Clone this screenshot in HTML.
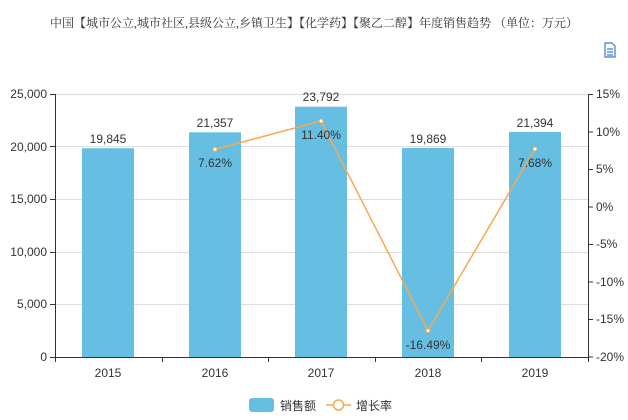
<!DOCTYPE html>
<html><head><meta charset="utf-8"><style>
body{margin:0;background:#fff;}
svg text{font-family:"Liberation Sans","Noto Sans CJK SC",sans-serif;}
</style></head><body>
<svg width="628" height="415" xmlns="http://www.w3.org/2000/svg">
<text x="314" y="27" font-size="12" text-anchor="middle" fill="#333" style="font-family:'Liberation Serif','Noto Serif CJK SC',serif">中国【城市公立,城市社区,县级公立,乡镇卫生】【化学药】【聚乙二醇】年度销售趋势 （单位：万元）</text>
<g stroke="#3a7bd5" fill="none" stroke-width="1.2"><path d="M605 43h7l3 3v11h-10z"/><path d="M607 49h6M607 52h6M607 55h6"/></g>
<g stroke="#ddd" stroke-width="1">
<line x1="55" y1="94.5" x2="588" y2="94.5"/><line x1="55" y1="146.5" x2="588" y2="146.5"/><line x1="55" y1="199.5" x2="588" y2="199.5"/><line x1="55" y1="252.5" x2="588" y2="252.5"/><line x1="55" y1="304.5" x2="588" y2="304.5"/>
</g>
<g fill="#66bfe2">
<rect x="82" y="148.2" width="52" height="208.8"/>
<rect x="189" y="132.3" width="52" height="224.7"/>
<rect x="295" y="106.7" width="52" height="250.3"/>
<rect x="402" y="148" width="52" height="209"/>
<rect x="509" y="132" width="52" height="225"/>
</g>
<g stroke="#333" stroke-width="1">
<line x1="55.5" y1="94" x2="55.5" y2="357"/><line x1="588.5" y1="94" x2="588.5" y2="357"/>
<line x1="55" y1="357.5" x2="588" y2="357.5"/>
<line x1="50" y1="94.5" x2="55" y2="94.5"/><line x1="50" y1="146.5" x2="55" y2="146.5"/><line x1="50" y1="199.5" x2="55" y2="199.5"/><line x1="50" y1="252.5" x2="55" y2="252.5"/><line x1="50" y1="304.5" x2="55" y2="304.5"/><line x1="50" y1="357.5" x2="55" y2="357.5"/>
<line x1="55.5" y1="357" x2="55.5" y2="362"/><line x1="162.5" y1="357" x2="162.5" y2="362"/><line x1="268.5" y1="357" x2="268.5" y2="362"/><line x1="375.5" y1="357" x2="375.5" y2="362"/><line x1="481.5" y1="357" x2="481.5" y2="362"/><line x1="588.5" y1="357" x2="588.5" y2="362"/>
<line x1="588" y1="94.5" x2="593" y2="94.5"/><line x1="588" y1="132" x2="593" y2="132"/><line x1="588" y1="169.5" x2="593" y2="169.5"/><line x1="588" y1="207" x2="593" y2="207"/><line x1="588" y1="244.5" x2="593" y2="244.5"/><line x1="588" y1="282" x2="593" y2="282"/><line x1="588" y1="319.5" x2="593" y2="319.5"/><line x1="588" y1="357" x2="593" y2="357"/>
</g>
<g font-size="12" fill="#333" text-anchor="end">
<text x="47" y="98">25,000</text><text x="47" y="151">20,000</text><text x="47" y="203">15,000</text><text x="47" y="256">10,000</text><text x="47" y="308">5,000</text><text x="47" y="361">0</text>
</g>
<g font-size="12" fill="#333">
<text x="596" y="98">15%</text><text x="596" y="136">10%</text><text x="596" y="173">5%</text><text x="596" y="211">0%</text><text x="596" y="248">-5%</text><text x="596" y="286">-10%</text><text x="596" y="323">-15%</text><text x="596" y="361">-20%</text>
</g>
<g font-size="12" fill="#333" text-anchor="middle">
<text x="108" y="377">2015</text><text x="215" y="377">2016</text><text x="321" y="377">2017</text><text x="428" y="377">2018</text><text x="535" y="377">2019</text>
<text x="108" y="143">19,845</text><text x="215" y="127">21,357</text><text x="321" y="101">23,792</text><text x="428" y="143">19,869</text><text x="535" y="127">21,394</text>
</g>
<polyline points="215,149.4 321,121 428,330.6 535,149" fill="none" stroke="#f7a94e" stroke-width="1.5"/>
<g fill="#fff" stroke="#f7a94e" stroke-width="1"><circle cx="215" cy="149.4" r="2"/><circle cx="321" cy="121" r="2"/><circle cx="428" cy="330.6" r="2"/><circle cx="535" cy="149" r="2"/></g>
<g font-size="12" fill="#333" text-anchor="middle">
<text x="215" y="167">7.62%</text><text x="321" y="139">11.40%</text><text x="428" y="349">-16.49%</text><text x="535" y="167">7.68%</text>
</g>
<rect x="249" y="398" width="25" height="14" rx="3" fill="#66bfe2"/>
<text x="280" y="410" font-size="12" fill="#333">销售额</text>
<line x1="326" y1="405" x2="351" y2="405" stroke="#f7a94e" stroke-width="1.5"/>
<circle cx="338.5" cy="405" r="5" fill="#fff" stroke="#f7a94e" stroke-width="1.5"/>
<text x="356" y="410" font-size="12" fill="#333">增长率</text>
</svg>
</body></html>
